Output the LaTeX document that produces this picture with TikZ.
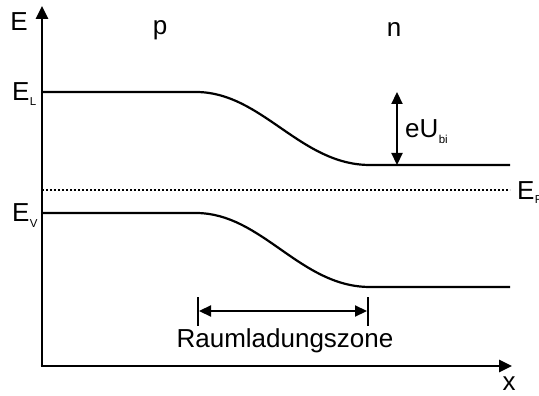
\documentclass[tikz,border=0pt]{standalone}
\usepackage{fontspec}
\setmainfont{Liberation Sans}
\usetikzlibrary{arrows.meta}
\begin{document}
\begin{tikzpicture}[x=1pt,y=-1pt,
  axis/.style={line width=2.6pt,-{Triangle[length=13pt,width=12pt]}},
  band/.style={line width=2.2pt},
  lbl/.style={font=\fontsize{26}{28}\selectfont,inner sep=0pt},
  sub/.style={font=\fontsize{11.5}{12}\selectfont,inner sep=0pt},
  dimarrow/.style={line width=2.2pt,{Triangle[length=12pt,width=11pt]}-{Triangle[length=12pt,width=11pt]}}]
\useasboundingbox (0,0) rectangle (539,396);
\clip (0,0) rectangle (539,396);
\coordinate (O) at (42,366);
\coordinate (Ytop) at (42,6);
\coordinate (Xend) at (512,366);
\draw[axis] (O) -- (Ytop);
\draw[axis] ([xshift=-1.3pt]O) -- (Xend);
\node[lbl] (E) at (19,22) {E};
\node[lbl] (x) at (509,384) {x};
\node[lbl] (p) at (160,30) {p};
\node[lbl] (n) at (394,30) {n};
% conduction band
\coordinate (L0) at (42,92);
\coordinate (L1) at (196,92);
\coordinate (L2) at (370,165);
\coordinate (L3) at (510,165);
\draw[band] (L0) -- (L1) .. controls (262,92) and (300,165) .. (L2) -- (L3);
% valence band
\coordinate (V0) at (42,213);
\coordinate (V1) at (196,213);
\coordinate (V2) at (370,287);
\coordinate (V3) at (510,287);
\draw[band] (V0) -- (V1) .. controls (262,213) and (300,287) .. (V2) -- (V3);
% Fermi level
\coordinate (F0) at (42,190);
\coordinate (F1) at (510,190);
\draw[line width=2.2pt,dash pattern=on 2pt off 2pt] (F0) -- (F1);
% labels
\node[lbl,anchor=base west] (EL) at (12,101) {E};
\node[sub,anchor=base west] (ELs) at (EL.base east) [yshift=-5pt] {L};
\node[lbl,anchor=base west] (EV) at (12,222) {E};
\node[sub,anchor=base west] (EVs) at (EV.base east) [yshift=-5pt] {V};
\node[lbl,anchor=base west] (EF) at (517,199) {E};
\node[sub,anchor=base west] (EFs) at (EF.base east) [yshift=-5pt] {F};
% eU_bi
\coordinate (U0) at (397,92);
\coordinate (U1) at (397,165);
\draw[dimarrow] (U0) -- (U1);
\node[lbl,anchor=base west] (eU) at (405,138) {eU};
\node[sub,anchor=base west] (eUs) at (eU.base east) [yshift=-5pt] {bi};
% Raumladungszone
\coordinate (R0t) at (198,297);
\coordinate (R0b) at (198,326);
\coordinate (R1t) at (368,297);
\coordinate (R1b) at (368,326);
\draw[line width=2.2pt] (R0t) -- (R0b);
\draw[line width=2.2pt] (R1t) -- (R1b);
\coordinate (RA) at (199,311);
\coordinate (RB) at (367,311);
\draw[dimarrow] (RA) -- (RB);
\node[lbl] (RZ) at (285,341) {Raumladungszone};
\end{tikzpicture}
\end{document}
